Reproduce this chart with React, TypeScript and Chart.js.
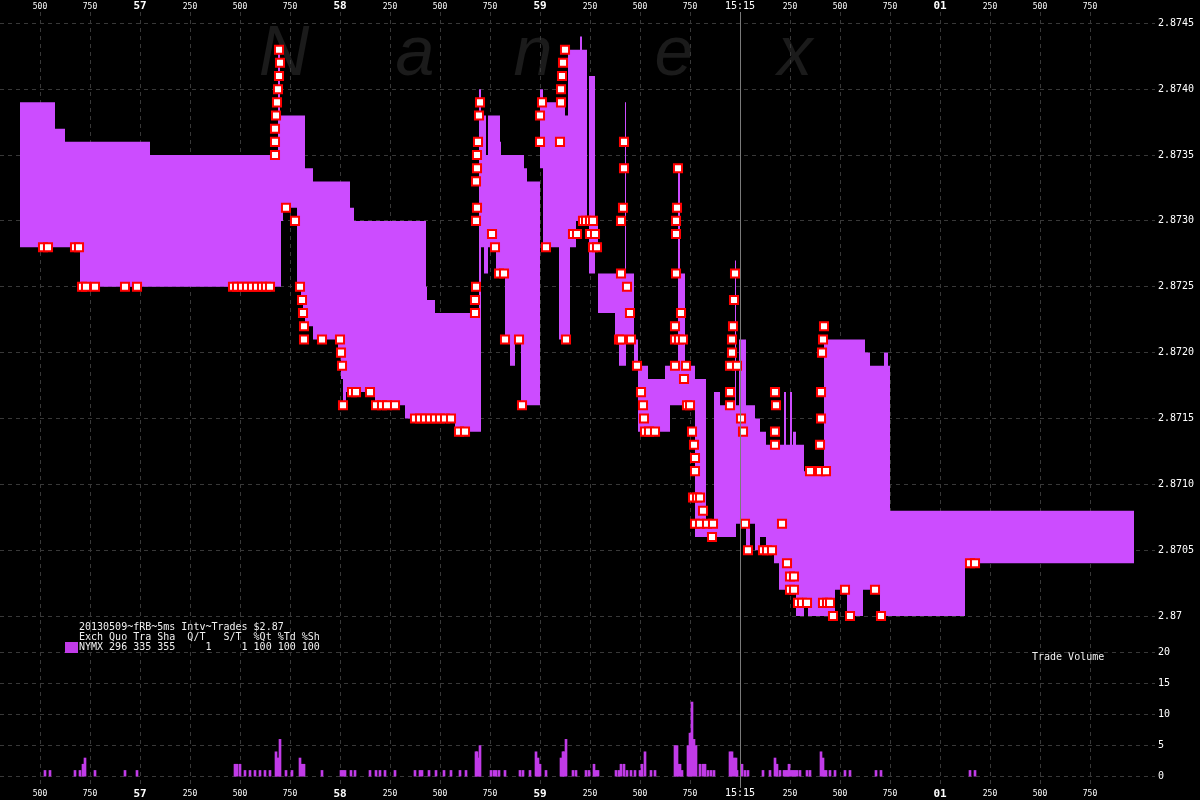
import React, { useEffect, useRef } from 'react';
import { Chart, registerables } from 'chart.js';

Chart.register(...registerables);

// Time in ms from 15:14:56.000
const bandTimes = [400, 575, 625, 700, 1050, 1690, 1700, 1705, 1715, 1785, 1805, 1815, 1825, 1865, 1990, 2005, 2015, 2030, 2050, 2070, 2175, 2325, 2430, 2435, 2475, 2575, 2695, 2705, 2720, 2730, 2740, 2780, 2800, 2805, 2825, 2850, 2875, 2905, 2920, 2935, 3000, 3015, 3095, 3125, 3140, 3150, 3180, 3200, 3210, 3235, 3245, 3275, 3290, 3375, 3395, 3425, 3430, 3470, 3490, 3540, 3625, 3650, 3690, 3700, 3725, 3775, 3830, 3870, 3900, 3975, 3980, 3995, 4030, 4050, 4075, 4100, 4130, 4170, 4195, 4220, 4230, 4250, 4260, 4265, 4280, 4320, 4340, 4420, 4475, 4535, 4615, 4625, 4650, 4700, 4720, 4740, 4750, 5125, 5970];

const askPrices = [2.8739, 2.8737, 2.8736, 2.8736, 2.8735, 2.8743, 2.8738, 2.8738, 2.8738, 2.8738, 2.8738, 2.8738, 2.8734, 2.8733, 2.8733, 2.8733, 2.8733, 2.8733, 2.8731, 2.8730, 2.8730, 2.8730, 2.8725, 2.8724, 2.8723, 2.8723, 2.8740, 2.8738, 2.8738, 2.8735, 2.8738, 2.8738, 2.8736, 2.8735, 2.8735, 2.8735, 2.8735, 2.8735, 2.8734, 2.8733, 2.8740, 2.8739, 2.8739, 2.8738, 2.8743, 2.8743, 2.8743, 2.8744, 2.8743, 2.8730, 2.8741, 2.8730, 2.8726, 2.8726, 2.8726, 2.8739, 2.8726, 2.8721, 2.8719, 2.8718, 2.8719, 2.8719, 2.8734, 2.8726, 2.8719, 2.8718, 2.8707, 2.8717, 2.8716, 2.8727, 2.8716, 2.8721, 2.8716, 2.8716, 2.8715, 2.8714, 2.8713, 2.8713, 2.8713, 2.8717, 2.8713, 2.8717, 2.8713, 2.8714, 2.8713, 2.8711, 2.8711, 2.8721, 2.8721, 2.8721, 2.8721, 2.8720, 2.8719, 2.8719, 2.8720, 2.8719, 2.8708, 2.8708, 2.8708];

const bidPrices = [2.8728, 2.8728, 2.8728, 2.8725, 2.8725, 2.8725, 2.8725, 2.8730, 2.8731, 2.8725, 2.8724, 2.8723, 2.8722, 2.8721, 2.8720, 2.8718, 2.8716, 2.8717, 2.8717, 2.8717, 2.8716, 2.8715, 2.8715, 2.8715, 2.8715, 2.8714, 2.8714, 2.8728, 2.8726, 2.8726, 2.8728, 2.8726, 2.8726, 2.8726, 2.8721, 2.8719, 2.8721, 2.8716, 2.8716, 2.8716, 2.8734, 2.8728, 2.8721, 2.8721, 2.8721, 2.8728, 2.8730, 2.8730, 2.8730, 2.8730, 2.8726, 2.8728, 2.8723, 2.8721, 2.8719, 2.8719, 2.8721, 2.8719, 2.8714, 2.8714, 2.8714, 2.8716, 2.8716, 2.8716, 2.8716, 2.8706, 2.8706, 2.8706, 2.8706, 2.8706, 2.8707, 2.8707, 2.8705, 2.8707, 2.8705, 2.8706, 2.8705, 2.8704, 2.8702, 2.8702, 2.8702, 2.8702, 2.8702, 2.8702, 2.8700, 2.8701, 2.8700, 2.8700, 2.8702, 2.8700, 2.8702, 2.8702, 2.8702, 2.8700, 2.8700, 2.8700, 2.8700, 2.8704, 2.8704];

const tradeTimes = [515, 540, 675, 695, 710, 730, 775, 925, 985, 1465, 1485, 1510, 1535, 1560, 1585, 1610, 1630, 1650, 1695, 1700, 1695, 1690, 1685, 1680, 1675, 1675, 1675, 1730, 1775, 1800, 1810, 1815, 1820, 1820, 1910, 2000, 2005, 2010, 2015, 2060, 2080, 2150, 2180, 2210, 2235, 2275, 2375, 2400, 2425, 2450, 2475, 2500, 2525, 2555, 2595, 2625, 2700, 2695, 2690, 2685, 2685, 2680, 2685, 2680, 2680, 2675, 2675, 2760, 2775, 2795, 2820, 2825, 2895, 2910, 3010, 3000, 3000, 3030, 3100, 3105, 3105, 3110, 3115, 3125, 3130, 3165, 3185, 3215, 3230, 3250, 3265, 3250, 3275, 3265, 3285, 3420, 3420, 3415, 3405, 3405, 3435, 3450, 3395, 3405, 3455, 3485, 3505, 3515, 3520, 3525, 3545, 3575, 3690, 3685, 3680, 3680, 3680, 3705, 3675, 3675, 3695, 3715, 3675, 3730, 3720, 3735, 3750, 3760, 3770, 3775, 3775, 3765, 3785, 3800, 3815, 3775, 3800, 3835, 3865, 3860, 3975, 3970, 3965, 3960, 3960, 3950, 3985, 3950, 3950, 4005, 4015, 4025, 4040, 4115, 4135, 4160, 4175, 4180, 4175, 4175, 4210, 4235, 4250, 4270, 4250, 4270, 4290, 4310, 4335, 4420, 4415, 4410, 4405, 4405, 4400, 4350, 4400, 4430, 4415, 4435, 4450, 4465, 4525, 4550, 4675, 4705, 5150, 5175];

const tradePrices = [2.8728, 2.8728, 2.8728, 2.8728, 2.8725, 2.8725, 2.8725, 2.8725, 2.8725, 2.8725, 2.8725, 2.8725, 2.8725, 2.8725, 2.8725, 2.8725, 2.8725, 2.8725, 2.8743, 2.8742, 2.8741, 2.8740, 2.8739, 2.8738, 2.8737, 2.8736, 2.8735, 2.8731, 2.8730, 2.8725, 2.8724, 2.8723, 2.8722, 2.8721, 2.8721, 2.8721, 2.8720, 2.8719, 2.8716, 2.8717, 2.8717, 2.8717, 2.8716, 2.8716, 2.8716, 2.8716, 2.8715, 2.8715, 2.8715, 2.8715, 2.8715, 2.8715, 2.8715, 2.8715, 2.8714, 2.8714, 2.8739, 2.8738, 2.8736, 2.8735, 2.8734, 2.8733, 2.8731, 2.8730, 2.8725, 2.8724, 2.8723, 2.8729, 2.8728, 2.8726, 2.8726, 2.8721, 2.8721, 2.8716, 2.8739, 2.8738, 2.8736, 2.8728, 2.8736, 2.8739, 2.8740, 2.8741, 2.8742, 2.8743, 2.8721, 2.8729, 2.8729, 2.8730, 2.8730, 2.8730, 2.8730, 2.8729, 2.8729, 2.8728, 2.8728, 2.8736, 2.8734, 2.8731, 2.8730, 2.8726, 2.8725, 2.8723, 2.8721, 2.8721, 2.8721, 2.8719, 2.8717, 2.8716, 2.8715, 2.8714, 2.8714, 2.8714, 2.8734, 2.8731, 2.8730, 2.8729, 2.8726, 2.8723, 2.8722, 2.8721, 2.8721, 2.8721, 2.8719, 2.8719, 2.8718, 2.8716, 2.8716, 2.8714, 2.8713, 2.8712, 2.8711, 2.8709, 2.8709, 2.8709, 2.8708, 2.8707, 2.8707, 2.8707, 2.8707, 2.8706, 2.8726, 2.8724, 2.8722, 2.8721, 2.8720, 2.8719, 2.8719, 2.8717, 2.8716, 2.8715, 2.8714, 2.8707, 2.8705, 2.8705, 2.8705, 2.8705, 2.8717, 2.8716, 2.8714, 2.8713, 2.8707, 2.8704, 2.8703, 2.8703, 2.8702, 2.8702, 2.8701, 2.8701, 2.8701, 2.8722, 2.8721, 2.8720, 2.8717, 2.8715, 2.8713, 2.8711, 2.8711, 2.8711, 2.8701, 2.8701, 2.8701, 2.8700, 2.8702, 2.8700, 2.8702, 2.8700, 2.8704, 2.8704];

const volumeTimes = [525, 550, 675, 700, 715, 725, 775, 925, 985, 1475, 1485, 1500, 1525, 1550, 1575, 1600, 1625, 1650, 1680, 1685, 1695, 1700, 1730, 1760, 1800, 1810, 1820, 1910, 2005, 2015, 2025, 2055, 2075, 2150, 2180, 2200, 2225, 2275, 2375, 2400, 2410, 2445, 2480, 2520, 2555, 2600, 2630, 2680, 2685, 2695, 2700, 2755, 2770, 2780, 2795, 2825, 2900, 2915, 2950, 2980, 2990, 3000, 3030, 3105, 3115, 3120, 3130, 3165, 3180, 3230, 3245, 3270, 3280, 3290, 3380, 3395, 3405, 3420, 3435, 3455, 3475, 3500, 3510, 3525, 3555, 3575, 3675, 3685, 3690, 3700, 3710, 3740, 3750, 3760, 3770, 3780, 3800, 3815, 3825, 3840, 3855, 3870, 3950, 3960, 3970, 3980, 3985, 4010, 4025, 4040, 4115, 4150, 4175, 4185, 4200, 4220, 4230, 4240, 4245, 4255, 4265, 4275, 4285, 4300, 4335, 4350, 4405, 4415, 4420, 4430, 4450, 4475, 4525, 4550, 4680, 4705, 5150, 5175];

const volumeValues = [1, 1, 1, 1, 2, 3, 1, 1, 1, 2, 2, 2, 1, 1, 1, 1, 1, 1, 4, 3, 3, 6, 1, 1, 3, 2, 2, 1, 1, 1, 1, 1, 1, 1, 1, 1, 1, 1, 1, 1, 1, 1, 1, 1, 1, 1, 1, 4, 4, 3, 5, 1, 1, 1, 1, 1, 1, 1, 1, 4, 3, 2, 1, 3, 4, 4, 6, 1, 1, 1, 1, 2, 1, 1, 1, 1, 2, 2, 1, 1, 1, 1, 2, 4, 1, 1, 5, 5, 2, 2, 1, 5, 7, 12, 6, 5, 2, 2, 2, 1, 1, 1, 4, 4, 3, 3, 1, 2, 1, 1, 1, 1, 3, 2, 1, 1, 1, 1, 2, 1, 1, 1, 1, 1, 1, 1, 4, 3, 1, 1, 1, 1, 1, 1, 1, 1, 1, 1];

const timeTicks = [500, 750, 1000, 1250, 1500, 1750, 2000, 2250, 2500, 2750, 3000, 3250, 3500, 3750, 4000, 4250, 4500, 4750, 5000, 5250, 5500, 5750];
const timeTickLabels = ['500', '750', '57', '250', '500', '750', '58', '250', '500', '750', '59', '250', '500', '750', '15:15', '250', '500', '750', '01', '250', '500', '750'];
const priceTicks = [2.87, 2.8705, 2.871, 2.8715, 2.872, 2.8725, 2.873, 2.8735, 2.874, 2.8745];
const priceTickLabels = ['2.87', '2.8705', '2.8710', '2.8715', '2.8720', '2.8725', '2.8730', '2.8735', '2.8740', '2.8745'];
const volumeTicks = [0, 5, 10, 15, 20];
const volumeTickLabels = ['0', '5', '10', '15', '20'];
const minuteMarkTime = 4000;

const MONO = '"DejaVu Sans Mono", monospace';
const GRID = '#383838';
const BAND = '#cc4cff';
const VOL = '#c13be8';

const makeTickFont = (minuteLineHeight: number) => (ctx: any) => {
  const v = ctx && ctx.tick ? ctx.tick.value : 0;
  if (v === minuteMarkTime) return { family: MONO, size: 10, lineHeight: minuteLineHeight };
  if (v % 1000 === 0) return { family: MONO, size: 11, weight: 'bold' as const, lineHeight: 1.0 };
  return { family: MONO, size: 8, lineHeight: 1.2 };
};

const markerPlugin = {
  id: 'minuteMarker',
  afterDatasetsDraw(chart: any) {
    const { ctx, chartArea } = chart;
    const x = Math.round(chart.scales.x.getPixelForValue(minuteMarkTime)) + 0.5;
    ctx.save();
    ctx.strokeStyle = '#7a7a7a';
    ctx.lineWidth = 1;
    ctx.beginPath();
    ctx.moveTo(x, chartArea.top);
    ctx.lineTo(x, chartArea.bottom + 2);
    ctx.stroke();
    ctx.restore();
  },
};

const fitX = (h: number) => (s: any) => {
  s.height = h;
  s.paddingLeft = 0;
  s.paddingRight = 0;
};

export default function App() {
  const canvasRef = useRef<HTMLCanvasElement | null>(null);

  useEffect(() => {
    document.body.style.margin = '0';
    document.body.style.background = '#000';
    const canvas = canvasRef.current;
    if (!canvas) return;

    const trades = tradeTimes.map((t, i) => ({ x: t, y: tradePrices[i] }));
    const asks = bandTimes.map((t, i) => ({ x: t, y: askPrices[i] }));
    const bids = bandTimes.map((t, i) => ({ x: t, y: bidPrices[i] }));
    const vols = volumeTimes.map((t, i) => ({ x: t, y: volumeValues[i] }));

    const chart = new Chart(canvas, {
      type: 'line',
      data: {
        datasets: [
          {
            type: 'line',
            label: 'Trades',
            data: trades,
            showLine: false,
            pointStyle: 'rect',
            pointRadius: 5.7,
            pointHoverRadius: 5.7,
            pointBackgroundColor: '#ffffff',
            pointBorderColor: '#ff0000',
            pointBorderWidth: 2,
            xAxisID: 'x',
            yAxisID: 'y',
            order: 0,
          } as any,
          {
            type: 'line',
            label: 'Ask',
            data: asks,
            stepped: true,
            borderWidth: 0,
            borderColor: 'rgba(0,0,0,0)',
            pointRadius: 0,
            fill: false,
            xAxisID: 'x',
            yAxisID: 'y',
            order: 1,
          } as any,
          {
            type: 'line',
            label: 'Bid',
            data: bids,
            stepped: true,
            borderWidth: 0,
            borderColor: 'rgba(0,0,0,0)',
            backgroundColor: BAND,
            pointRadius: 0,
            fill: '-1',
            xAxisID: 'x',
            yAxisID: 'y',
            order: 2,
          } as any,
          {
            type: 'bar',
            label: 'Trade Volume',
            data: vols,
            backgroundColor: VOL,
            borderWidth: 0,
            barThickness: 2,
            grouped: false,
            xAxisID: 'x',
            yAxisID: 'yv',
            order: 3,
          } as any,
        ],
      },
      options: {
        responsive: false,
        maintainAspectRatio: false,
        animation: false,
        events: [],
        layout: { padding: 0, autoPadding: false },
        plugins: {
          legend: { display: false },
          tooltip: { enabled: false },
        },
        scales: {
          x: {
            type: 'linear',
            position: 'bottom',
            min: 300,
            max: 6075,
            offset: false,
            afterBuildTicks: (s: any) => {
              s.ticks = timeTicks.map((v) => ({ value: v }));
            },
            afterFit: fitX(14),
            ticks: {
              autoSkip: false,
              maxRotation: 0,
              minRotation: 0,
              padding: 3,
              color: '#ffffff',
              font: makeTickFont(0.8) as any,
              callback: (_v: any, i: number) => timeTickLabels[i],
            },
            grid: {
              offset: false,
              drawTicks: false,
              color: (ctx: any) => (ctx.tick && ctx.tick.value === minuteMarkTime ? 'rgba(0,0,0,0)' : GRID),
            },
            border: { display: false, dash: [4, 4] },
          },
          x2: {
            type: 'linear',
            position: 'top',
            min: 300,
            max: 6075,
            offset: false,
            afterBuildTicks: (s: any) => {
              s.ticks = timeTicks.map((v) => ({ value: v }));
            },
            afterFit: fitX(12),
            ticks: {
              autoSkip: false,
              maxRotation: 0,
              minRotation: 0,
              padding: 0,
              color: '#ffffff',
              font: makeTickFont(1.2) as any,
              callback: (_v: any, i: number) => timeTickLabels[i],
            },
            grid: { display: false, drawTicks: false },
            border: { display: false },
          },
          y: {
            type: 'linear',
            position: 'right',
            stack: 'panels',
            stackWeight: 628,
            min: 2.869818,
            max: 2.874586,
            afterBuildTicks: (s: any) => {
              s.ticks = priceTicks.map((v) => ({ value: v }));
            },
            afterFit: (s: any) => {
              s.width = 45;
            },
            ticks: {
              padding: 3,
              color: '#ffffff',
              font: { family: MONO, size: 10 },
              callback: (_v: any, i: number) => priceTickLabels[i],
            },
            grid: { drawTicks: false, color: GRID },
            border: { display: false, dash: [4, 4] },
          },
          yv: {
            type: 'linear',
            position: 'right',
            stack: 'panels',
            stackWeight: 146,
            min: -1.5,
            max: 21.98,
            afterBuildTicks: (s: any) => {
              s.ticks = volumeTicks.map((v) => ({ value: v }));
            },
            afterFit: (s: any) => {
              s.width = 45;
            },
            ticks: {
              padding: 3,
              color: '#ffffff',
              font: { family: MONO, size: 10 },
              callback: (_v: any, i: number) => volumeTickLabels[i],
            },
            grid: { drawTicks: false, color: GRID },
            border: { display: false, dash: [4, 4] },
          },
        } as any,
      },
      plugins: [markerPlugin],
    });

    return () => {
      chart.destroy();
    };
  }, []);

  const wm = { position: 'absolute' as const, top: 16, width: 90, textAlign: 'center' as const, font: 'italic 70px "Liberation Sans", Arial, sans-serif', lineHeight: '70px', color: '#1b1b1b', zIndex: 0 };
  const legendText = { position: 'absolute' as const, font: `10px ${MONO}`, lineHeight: '10px', color: '#f0f0f0', whiteSpace: 'pre' as const, zIndex: 2 };

  return (
    <div style={{ position: 'relative', width: 1200, height: 800, background: '#000', overflow: 'hidden' }}>
      <span style={{ ...wm, left: 284 - 45 }}>N</span>
      <span style={{ ...wm, left: 415 - 45 }}>a</span>
      <span style={{ ...wm, left: 533 - 45 }}>n</span>
      <span style={{ ...wm, left: 674 - 45 }}>e</span>
      <span style={{ ...wm, left: 795 - 45 }}>x</span>
      <canvas
        ref={canvasRef}
        width={1200}
        height={800}
        style={{ position: 'absolute', left: 0, top: 0, width: 1200, height: 800, zIndex: 1 }}
      />
      <div style={{ ...legendText, left: 79, top: 622 }}>
        {'20130509~fRB~5ms Intv~Trades $2.87\nExch Quo Tra Sha  Q/T   S/T  %Qt %Td %Sh\nNYMX 296 335 355     1     1 100 100 100'}
      </div>
      <div style={{ position: 'absolute', left: 65, top: 642, width: 13, height: 11, background: VOL, zIndex: 2 }} />
      <div style={{ ...legendText, left: 1032, top: 652 }}>Trade Volume</div>
    </div>
  );
}
